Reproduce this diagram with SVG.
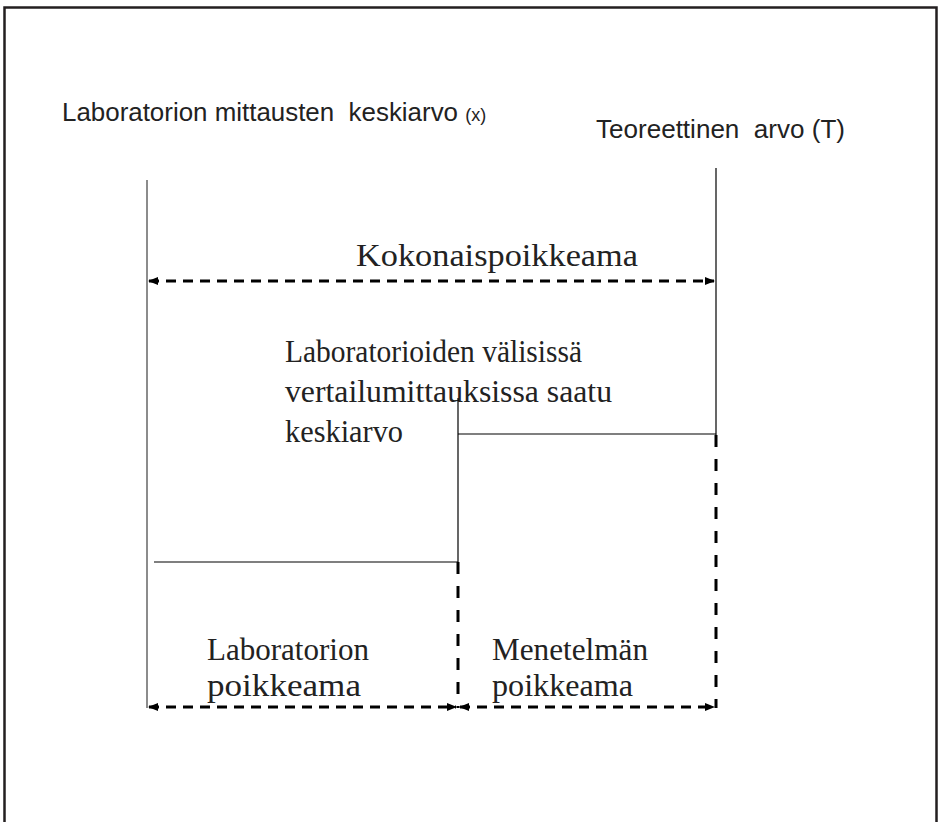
<svg xmlns="http://www.w3.org/2000/svg" width="939" height="822" viewBox="0 0 939 822">
<defs>
<marker id="ah" viewBox="0 0 10 8" refX="9" refY="4" markerWidth="10" markerHeight="8" markerUnits="userSpaceOnUse" orient="auto-start-reverse">
<path d="M0,0 L10,4 L0,8 Z" fill="#000"/>
</marker>
</defs>
<style>
.sans{font-family:"Liberation Sans",Arial,sans-serif;fill:#222;white-space:pre}
.serif{font-family:"Liberation Serif","Times New Roman",serif;fill:#222;font-size:32px}
.thin{stroke:#000;stroke-width:1.2;fill:none}
.gray{stroke:#666;stroke-width:1.5;fill:none}
.dash{stroke:#000;stroke-width:3;stroke-dasharray:10 7;fill:none}
.dashv{stroke:#000;stroke-width:3;stroke-dasharray:12 12;fill:none}
</style>
<rect width="939" height="822" fill="#fff"/>
<path d="M4.5,822 V7.5 H936.5 V822" stroke="#231f20" stroke-width="2.5" fill="none"/>
<g id="label-x"><text class="sans" x="62" y="121" font-size="26" xml:space="preserve"><tspan textLength="396" lengthAdjust="spacingAndGlyphs">Laboratorion mittausten  keskiarvo</tspan> <tspan font-size="18">(x)</tspan></text></g>
<g id="label-T"><text class="sans" x="596" y="138" font-size="26" xml:space="preserve" textLength="249" lengthAdjust="spacingAndGlyphs">Teoreettinen  arvo (T)</text></g>
<g id="label-total"><text class="serif" x="356" y="266" font-size="34" textLength="282" lengthAdjust="spacingAndGlyphs">Kokonaispoikkeama</text></g>
<g id="label-mean"><text class="serif" x="285" y="362" textLength="297" lengthAdjust="spacingAndGlyphs">Laboratorioiden välisissä</text><text class="serif" x="285" y="402" textLength="327" lengthAdjust="spacingAndGlyphs">vertailumittauksissa saatu</text><text class="serif" x="285" y="442" textLength="118" lengthAdjust="spacingAndGlyphs">keskiarvo</text></g>
<g id="label-lab"><text class="serif" x="207" y="660" textLength="162" lengthAdjust="spacingAndGlyphs">Laboratorion</text><text class="serif" x="207" y="696" textLength="154" lengthAdjust="spacingAndGlyphs">poikkeama</text></g>
<g id="label-method"><text class="serif" x="492" y="660" textLength="156" lengthAdjust="spacingAndGlyphs">Menetelmän</text><text class="serif" x="492" y="696" textLength="141" lengthAdjust="spacingAndGlyphs">poikkeama</text></g>
<g id="connectors">
<line class="gray" x1="147" y1="180" x2="147" y2="708"/>
<line class="thin" x1="716" y1="168" x2="716" y2="435"/>
<line class="dashv" x1="716" y1="435" x2="716" y2="708"/>
<line class="thin" x1="458" y1="398" x2="458" y2="562"/>
<line class="dashv" x1="458" y1="562" x2="458" y2="708"/>
<line class="thin" x1="458" y1="434" x2="716" y2="434"/>
<line class="thin" x1="154" y1="562" x2="458" y2="562"/>
<line class="dash" x1="149" y1="281" x2="714" y2="281" marker-start="url(#ah)" marker-end="url(#ah)"/>
<line class="dash" x1="149" y1="707" x2="456" y2="707" marker-start="url(#ah)" marker-end="url(#ah)"/>
<line class="dash" x1="460" y1="707" x2="714" y2="707" marker-start="url(#ah)" marker-end="url(#ah)"/>
</g>
</svg>
